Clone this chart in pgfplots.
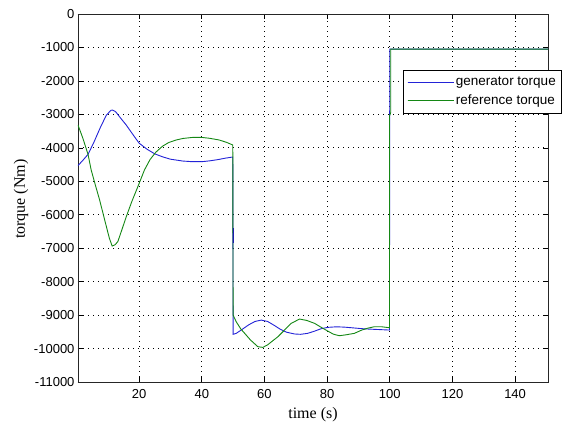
\documentclass[border=0pt]{standalone}
\usepackage{fontspec}
\setmainfont{Liberation Serif}
\setsansfont{Liberation Sans}
\usepackage{pgfplots}
\pgfplotsset{compat=1.18}
\definecolor{genblue}{RGB}{35,35,215}
\definecolor{refgreen}{RGB}{20,135,20}

\begin{document}
\begin{tikzpicture}
\useasboundingbox (0,0) rectangle (563pt,428pt);
\begin{axis}[
  at={(78pt,46pt)}, anchor=south west,
  scale only axis, width=470pt, height=368pt,
  xmin=0.5, xmax=150.5, ymin=-11000, ymax=0,
  xtick={20,40,...,140}, ytick={-11000,-10000,...,0},
  scaled y ticks=false,
  /pgf/number format/1000 sep={},
  /pgf/number format/assume math mode=true,
  tick label style={font=\fontsize{13}{15}\selectfont\sffamily},
  xticklabel style={yshift=-3.5pt},
  tick align=inside, major tick length=5pt,
  tick style={black, line width=0.6pt},
  axis line style={black!85, line width=0.7pt},
  grid=major,
  major grid style={black, line width=0.7pt, dash pattern=on 0.8pt off 4.2pt},
  xlabel={time (s)},
  ylabel={torque (Nm)},
  xlabel style={at={(axis description cs:0.5,-0.088)}, anchor=center, font=\fontsize{16}{18}\selectfont},
  ylabel style={at={(axis description cs:-0.121,0.497)}, anchor=center, font=\fontsize{16}{18}\selectfont},
  legend style={at={(axis description cs:0.691,0.849)}, anchor=north west,
    draw=black, fill=white, line width=0.6pt,
    font=\fontsize{13.5}{15}\selectfont\sffamily,
    inner xsep=4pt, inner ysep=5pt, row sep=3.5pt},
  legend cell align=left,
  legend image code/.code={\draw[#1] (0pt,0pt) -- (43pt,0pt); \path (0pt,0pt) -- (46pt,0pt);},
]
% generator torque
\addplot[genblue, line width=0.9pt] coordinates {
(0.5,-4530) (2,-4380) (3.7,-4195) (5.5,-3850) (7.5,-3420) (9.5,-3030)
(11,-2880) (11.5,-2870) (12.5,-2920) (14,-3100) (15.9,-3320) (18,-3600)
(20,-3860) (22.5,-4040) (25,-4180) (27.5,-4270) (30,-4340) (33.9,-4395)
(37,-4415) (40,-4415) (42.5,-4390) (45,-4355) (47.5,-4310) (49.9,-4275)
(50,-9575) (51,-9546) (53,-9420) (55,-9290) (57,-9190) (59,-9150)
(61,-9190) (63,-9300) (65,-9420) (67,-9510) (69.6,-9565) (71.5,-9575)
(73.8,-9546) (76,-9480) (78,-9410) (80.2,-9367) (83,-9350) (85.5,-9360)
(88,-9380) (91,-9405) (93,-9417) (96,-9430) (99.9,-9447)
(100,-1050) (150.5,-1050)
};
% reference torque
\addplot[refgreen, line width=0.9pt] coordinates {
(0.5,-3320) (2,-3700) (3.7,-4195) (4.7,-4660) (6,-5100) (7.4,-5560)
(9,-6150) (10.5,-6700) (11.4,-6936) (12.3,-6900) (13.2,-6806) (14.5,-6450)
(15.9,-6060) (17.7,-5600) (19.6,-5163) (21.7,-4664) (23.5,-4350) (25.4,-4126)
(27.5,-3950) (29.5,-3840) (31.8,-3767) (34,-3720) (37,-3690) (39.8,-3687)
(42.5,-3715) (45.6,-3767) (48,-3840) (49.9,-3916)
(50,-9000) (51,-9200) (52.5,-9420) (53.7,-9546) (55.5,-9740) (57.9,-9945)
(59.5,-9965) (61,-9890) (62.5,-9780) (64.3,-9647) (66.5,-9440) (68.5,-9250)
(71.2,-9118) (73.5,-9160) (76,-9247) (78,-9360) (80.2,-9477) (82,-9570)
(83.9,-9617) (86,-9590) (88.7,-9546) (91,-9450) (93,-9390) (95.1,-9348)
(97.5,-9350) (99.9,-9378)
(99.9,-3050) (100.3,-2950) (100.3,-1050) (150.5,-1050)
};
\addplot[genblue!80!black, line width=1.2pt, forget plot] coordinates {(50,-6400) (50,-6850)};
\legend{generator torque, reference torque}
\end{axis}
\end{tikzpicture}
\end{document}
